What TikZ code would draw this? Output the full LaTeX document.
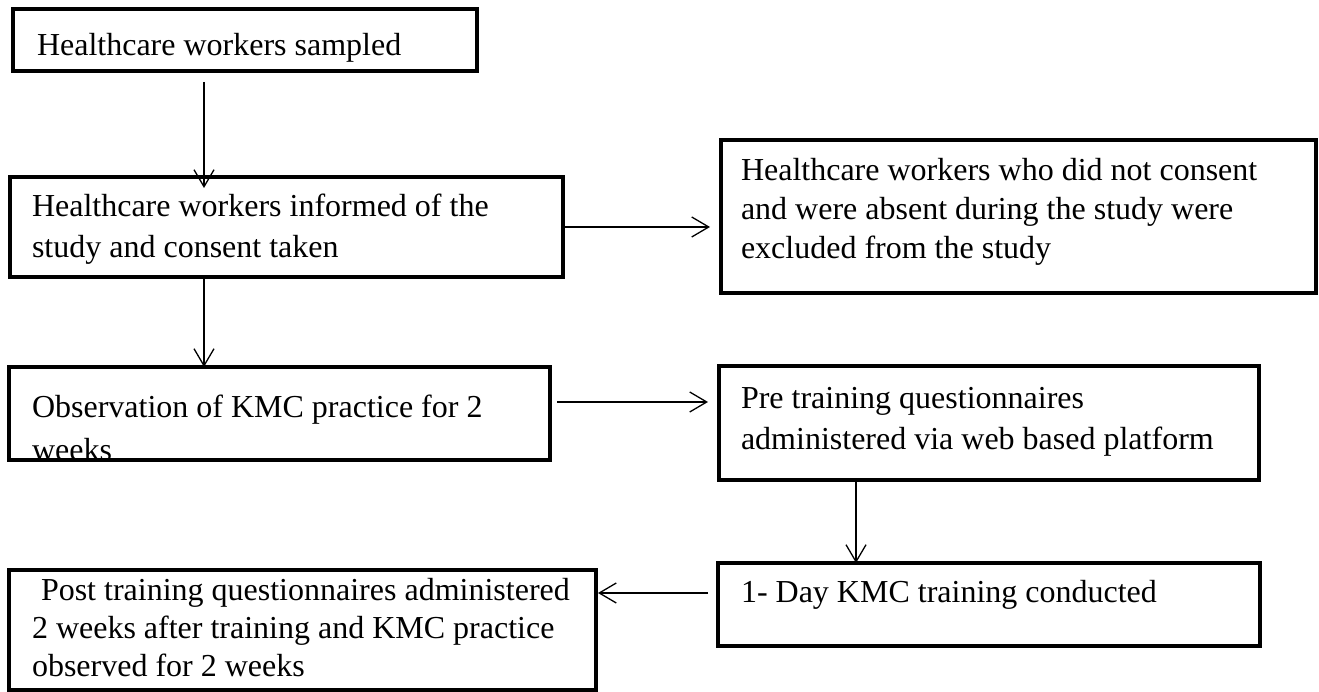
\documentclass[tikz,border=0pt]{standalone}
\usepackage{fontspec}
\setmainfont{Liberation Serif}
\usetikzlibrary{arrows.meta}
\tikzset{
  box/.style={draw=black, line width=4pt, line join=miter, rectangle, inner sep=0pt, outer sep=0pt},
  txt/.style={anchor=base west, inner sep=0pt, outer sep=0pt, font=\fontsize{32}{40}\selectfont},
  arr/.style={draw=black, line width=1.3pt, -{Straight Barb[length=17pt,width=20pt]}}
}
\begin{document}
\begin{tikzpicture}[x=1pt,y=1pt]
\useasboundingbox (0,0) rectangle (1319,692);
% boxes
\node[box, minimum width=464pt, minimum height=62pt]  (b1) at (245,652) {};
\node[box, minimum width=553pt, minimum height=100pt] (b2) at (286.5,465) {};
\node[box, minimum width=595pt, minimum height=153pt] (b3) at (1018.5,475.5) {};
\node[box, minimum width=541pt, minimum height=93pt]  (b4) at (279.5,278.5) {};
\node[box, minimum width=540pt, minimum height=114pt] (b5) at (989,269) {};
\node[box, minimum width=542pt, minimum height=83pt]  (b6) at (989,87.5) {};
\node[box, minimum width=587pt, minimum height=120pt] (b7) at (302.5,62) {};
% texts
\node[txt] (t1) at (37,636) {Healthcare workers sampled};
\node[txt] (t2a) at (32,475) {Healthcare workers informed of the};
\node[txt] (t2b) at (32,434) {study and consent taken};
\node[txt] (t3a) at (741,511) {Healthcare workers who did not consent};
\node[txt] (t3b) at (741,472) {and were absent during the study were};
\node[txt] (t3c) at (741,433) {excluded from the study};
\node[txt] (t4a) at (32,274) {Observation of KMC practice for 2};
\begin{scope}
\clip ([shift={(2pt,2pt)}]b4.south west) rectangle ([shift={(-2pt,-2pt)}]b4.north east);
\node[txt] (t4b) at (32,231) {weeks};
\end{scope}
\node[txt] (t5a) at (741,283) {Pre training questionnaires};
\node[txt] (t5b) at (741,242) {administered via web based platform};
\node[txt] (t6) at (741,89) {1- Day KMC training conducted};
\node[txt] (t7a) at (41,91) {Post training questionnaires administered};
\node[txt] (t7b) at (32,53) {2 weeks after training and KMC practice};
\node[txt] (t7c) at (32,15) {observed for 2 weeks};
% connectors
\draw[arr] ([xshift=-41pt,yshift=-11pt]b1.south) -- ([xshift=-41pt,yshift=-11pt]b1.south |- b2.north);
\draw[arr, shorten >=11pt] (b2.east) -- (b2.east -| b3.west);
\draw[arr] ([xshift=-82.5pt]b2.south) -- ([xshift=-82.5pt]b2.south |- b4.north);
\draw[arr, shorten <=7pt, shorten >=11pt] ([yshift=11.5pt]b4.east) -- ([yshift=11.5pt]b4.east -| b5.west);
\draw[arr] ([xshift=-133pt]b5.south) -- ([xshift=-133pt]b5.south |- b6.north);
\draw[arr, shorten <=10pt, shorten >=2pt] ([yshift=11.5pt]b6.west) -- ([yshift=11.5pt]b6.west -| b7.east);
\end{tikzpicture}
\end{document}
